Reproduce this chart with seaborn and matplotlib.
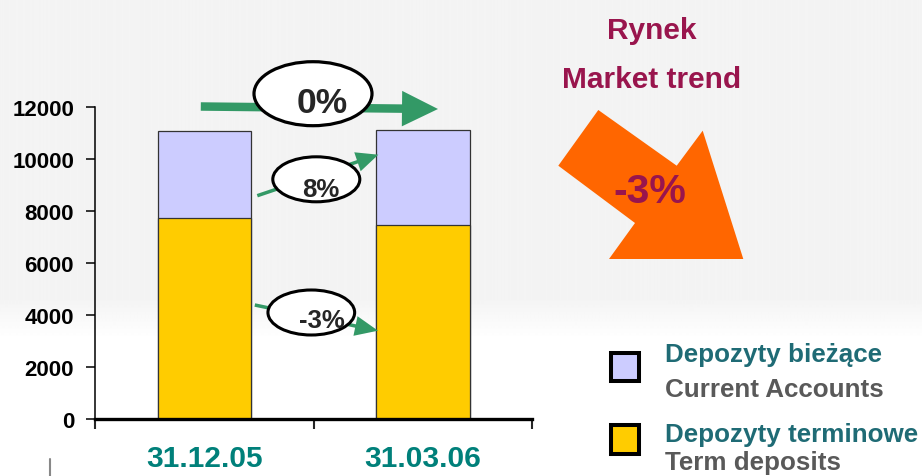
"""
Deposits chart: stacked bars (term deposits + current accounts) with market trend arrow
"""

import numpy as np
import pandas as pd
import matplotlib
matplotlib.use("Agg")
import matplotlib.pyplot as plt
from matplotlib.patches import Ellipse, Polygon, Rectangle
from matplotlib.lines import Line2D
import seaborn as sns

# Data
dates = ["31.12.05", "31.03.06"]
term_deposits = [7730, 7470]
current_accounts = [3370, 3670]
y_ticks = [0, 2000, 4000, 6000, 8000, 10000, 12000]

change_total = "0%"
change_current = "8%"
change_term = "-3%"
market_change = "-3%"

W, H = 922, 477

sns.set_style("white")
plt.rcParams["font.family"] = ["Liberation Sans", "DejaVu Sans"]
plt.rcParams["font.weight"] = "bold"

df = pd.DataFrame({
    "date": dates,
    "term": term_deposits,
    "current": current_accounts,
})
df["total"] = df["term"] + df["current"]


def fx(x):
    return x / W


def fy(y):
    return 1 - y / H


def arrow_poly(x0, y0, x1, y1, shaft, head_w, head_l):
    """Arrow outline in pixel space, returned in figure fraction"""
    d = np.array([x1 - x0, y1 - y0], dtype=float)
    d /= np.hypot(*d)
    n = np.array([-d[1], d[0]])
    p0 = np.array([x0, y0], dtype=float)
    tip = np.array([x1, y1], dtype=float)
    base = tip - d * head_l
    pts = [
        p0 + n * shaft / 2,
        base + n * shaft / 2,
        base + n * head_w / 2,
        tip,
        base - n * head_w / 2,
        base - n * shaft / 2,
        p0 - n * shaft / 2,
    ]
    return [(fx(p[0]), fy(p[1])) for p in pts]


fig = plt.figure(figsize=(W / 100, H / 100), dpi=100)
fig.patch.set_facecolor("white")

# slide background: light gray fading to white at the bottom
bg = fig.add_axes([0, 0, 1, 1], zorder=-10)
rows = np.arange(H)
shade = np.where(rows < 300, 0.955, np.interp(rows, [300, 340], [0.955, 1.0]))
shade = np.clip(shade, 0, 1)
bg.imshow(np.repeat(shade[:, None], 4, axis=1), cmap="gray", vmin=0, vmax=1,
          aspect="auto", extent=(0, 1, 0, 1), interpolation="bilinear")
bg.set_axis_off()

ax = fig.add_axes([fx(95.4), fy(420), fx(532) - fx(95.4), fy(108.3) - fy(420)])
ax.patch.set_alpha(0)

sns.barplot(data=df, x="date", y="total", color="#ccccff", saturation=1,
            width=0.43, edgecolor="#333333", linewidth=0.9, ax=ax)
sns.barplot(data=df, x="date", y="term", color="#ffcc00", saturation=1,
            width=0.43, edgecolor="#333333", linewidth=0.9, ax=ax)

ax.set_xlim(-0.5, 1.5)
ax.set_ylim(0, 12000)
ax.set_xlabel("")
ax.set_ylabel("")

ax.set_yticks(y_ticks)
ax.set_yticklabels([str(v) for v in y_ticks], fontsize=16, fontweight="bold")
ax.tick_params(axis="y", direction="out", length=6.8, width=1.1, pad=8.6,
               left=True, colors="black")

ax.set_xticks([-0.5, 0.5, 1.5])
ax.set_xticklabels([])
ax.set_xticks([0, 1], minor=True)
ax.set_xticklabels(dates, minor=True, fontsize=21.5, fontweight="bold",
                   color="#00807a")
ax.tick_params(axis="x", which="major", direction="out", length=7, width=1.5,
               bottom=True)
ax.tick_params(axis="x", which="minor", length=0, pad=18)

for s in ["top", "right"]:
    ax.spines[s].set_visible(False)
ax.spines["left"].set_linewidth(1.1)
ax.spines["bottom"].set_linewidth(2.4)
ax.spines["left"].set_color("black")
ax.spines["bottom"].set_color("black")

green = "#339966"

# change arrows between the bars
arrows = [
    (200.8, 107.5, 438, 110, 8.5, 35.5, 36),
    (257.3, 196.7, 378.3, 155.7, 3.5, 20, 22),
    (254.8, 306, 378, 331.7, 3.5, 20, 23),
]
for a in arrows:
    fig.patches.append(Polygon(arrow_poly(*a), closed=True, transform=fig.transFigure,
                               facecolor=green, edgecolor="none", zorder=3))

ellipses = [
    (313, 94.7, 118, 64, 2.3),
    (316.3, 180.3, 87, 45, 2.2),
    (311.3, 313.5, 86.7, 45, 2.2),
]
for cx, cy, w, h, lw in ellipses:
    fig.patches.append(Ellipse((fx(cx), fy(cy)), w / W, h / H, transform=fig.transFigure,
                               facecolor="white", edgecolor="black", linewidth=lw,
                               zorder=4))

fig.text(fx(322.5), fy(113.3), change_total, fontsize=25.5, fontweight="bold",
         ha="center", va="baseline", zorder=5)
fig.text(fx(320.5), fy(196.7), change_current, fontsize=18.5, fontweight="bold",
         ha="center", va="baseline", zorder=5)
fig.text(fx(321.5), fy(328), change_term, fontsize=18.5, fontweight="bold",
         ha="center", va="baseline", zorder=5)

# market trend block
maroon = "#99154d"
fig.text(fx(652), fy(39.3), "Rynek", fontsize=21.5, fontweight="bold",
         color=maroon, ha="center", va="baseline")
fig.text(fx(652), fy(88.3), "Market trend", fontsize=21.5, fontweight="bold",
         color=maroon, ha="center", va="baseline")

orange_pts = [(598.3, 111), (676.7, 166.7), (702.7, 131.7), (743.3, 260),
              (609, 260), (635, 224), (558.3, 166.7)]
fig.patches.append(Polygon([(fx(x), fy(y)) for x, y in orange_pts], closed=True,
                           transform=fig.transFigure, facecolor="#ff6600",
                           edgecolor="none", zorder=2))
fig.text(fx(650), fy(203.3), market_change, fontsize=29.5, fontweight="bold",
         color=maroon, ha="center", va="baseline", zorder=3)

# legend
teal = "#1f6b75"
gray = "#595959"
legend_rows = [
    ("#ccccff", 351.7, "Depozyty bieżące", 361.7, "Current Accounts", 396.7),
    ("#ffcc00", 424, "Depozyty terminowe", 441.7, "Term deposits", 470),
]
for fill, top, pl, pl_y, en, en_y in legend_rows:
    fig.patches.append(Rectangle((fx(611), fy(top + 30.5)), 28 / W, 28.5 / H,
                                 transform=fig.transFigure, facecolor=fill,
                                 edgecolor="black", linewidth=2.9, zorder=3))
    fig.text(fx(665), fy(pl_y), pl, fontsize=18.7, fontweight="bold", color=teal,
             ha="left", va="baseline")
    fig.text(fx(665), fy(en_y), en, fontsize=18.7, fontweight="bold", color=gray,
             ha="left", va="baseline")

# small stray mark at the bottom left
fig.lines.append(Line2D([fx(50), fx(50)], [fy(460), fy(477)], transform=fig.transFigure,
                        color="#888888", linewidth=1.5))

fig.savefig("out.png", dpi=100, facecolor=fig.get_facecolor())
